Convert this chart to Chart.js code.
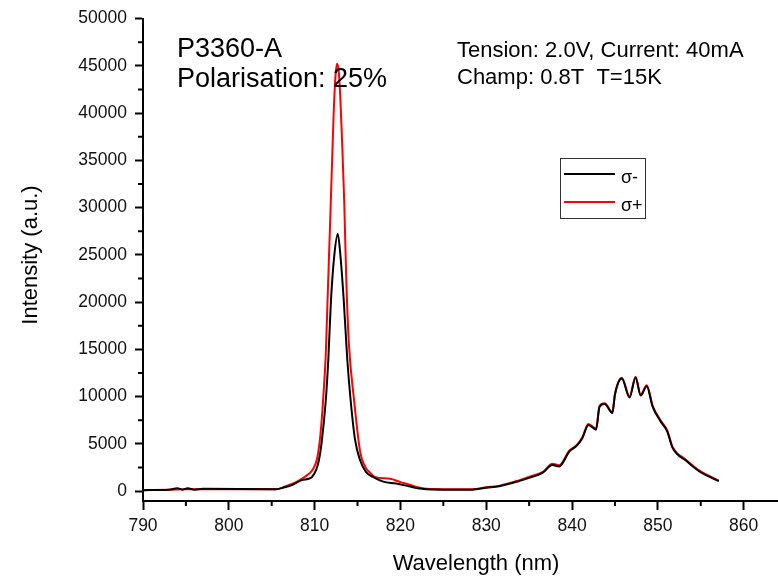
<!DOCTYPE html>
<html lang="en">
<head>
    <meta charset="UTF-8">
    <title>P3360-A spectre</title>
    <script src="https://cdn.jsdelivr.net/npm/chart.js"></script>
    <style>
        html, body { margin: 0; padding: 0; background: #fff; overflow: hidden; }
    </style>
</head>
<body>

<canvas id="myChart" width="778" height="576"></canvas>

<script>
// Données (longueur d'onde en nm, intensité en u.a.)
const sigmaPlusX = [790, 793, 795, 805.5, 806.5, 807.5, 808.5, 809.3, 809.8, 810.3, 810.7, 811.0, 811.3, 811.5,
    811.9, 812.2, 812.4, 812.6, 812.8, 813.0, 813.2, 813.45, 813.7, 814.0, 814.6, 815.3, 816.0, 816.4, 817.0, 818.8,
    820, 821, 822, 823, 826, 828.4, 830, 831.5, 833.9, 835, 836.6, 837.7, 838.5, 839.7, 840.5, 841.2, 841.9,
    842.8, 843.2, 843.8, 844.7, 845.0, 845.8, 846.7, 847.4, 848.0, 848.7, 849.4, 850.3, 851.1, 851.7, 853.3,
    854.8, 857.1];
const sigmaPlusY = [100, 150, 200, 200, 450, 800, 1300, 1800, 2300, 3500, 6200, 9800, 14500, 20000,
    31000, 39500, 43500, 45200, 44500, 41500, 37000, 30600, 22000, 15500, 9600, 4200, 2400, 2000, 1500, 1300,
    950, 700, 400, 250, 200, 200, 400, 550, 1160, 1500, 2030, 2900, 2740, 4300, 4840, 5700, 7100,
    6600, 9000, 9300, 8350, 10300, 12000, 10000, 12100, 10200, 11200, 9000, 7500, 6400, 4700, 3300,
    2200, 1100];

const sigmaMoinsX = [790, 793, 794, 794.6, 795.2, 796, 797, 805.5, 806.5, 807.5, 808.5, 809.3, 809.7, 810.2,
    810.5, 810.8, 811.3, 811.6, 811.9, 812.3, 812.7, 813.0, 813.4, 813.8, 814.2, 814.7, 815.3, 816.0, 816.8,
    818, 819.5, 821, 822, 823, 826, 828.4, 830, 831.5, 833.9, 835, 836.6, 837.7, 838.5, 839.7, 840.5, 841.2,
    841.9, 842.8, 843.2, 843.8, 844.7, 845.0, 845.8, 846.7, 847.4, 848.0, 848.7, 849.4, 850.3, 851.1, 851.7,
    853.3, 854.8, 857.1];
const sigmaMoinsY = [100, 150, 300, 150, 300, 150, 250, 200, 400, 700, 1160, 1300, 1500, 2300,
    3260, 5000, 9580, 14000, 20100, 25000, 27200, 25000, 20100, 14000, 9580, 5500, 3260, 2000, 1500,
    1000, 800, 500, 300, 200, 150, 150, 350, 500, 1080, 1400, 1950, 2750, 2600, 4200, 4750, 5600,
    7000, 6500, 8900, 9200, 8250, 10200, 11900, 9900, 12000, 10100, 11100, 8900, 7400, 6300, 4600,
    3200, 2100, 1050];

const xTicks = [790, 800, 810, 820, 830, 840, 850, 860];
const yTicks = [0, 5000, 10000, 15000, 20000, 25000, 30000, 35000, 40000, 45000, 50000];

const police = "'Liberation Sans', Arial, sans-serif";

function toPoints(xs, ys) {
    return xs.map((x, i) => ({ x: x, y: ys[i] }));
}

// Petites graduations et textes, dessinés à partir des échelles du graphique
const decorations = {
    id: 'decorations',
    afterDraw(chart) {
        const ctx = chart.ctx;
        const xs = chart.scales.x;
        const ys = chart.scales.y;
        const area = chart.chartArea;
        ctx.save();
        ctx.strokeStyle = '#000';
        ctx.lineWidth = 2;
        ctx.beginPath();
        for (let v = 795; v < xs.max; v += 10) {
            const px = xs.getPixelForValue(v);
            ctx.moveTo(px, area.bottom);
            ctx.lineTo(px, area.bottom + 5);
        }
        for (let v = 2500; v < ys.max; v += 5000) {
            const py = ys.getPixelForValue(v);
            ctx.moveTo(area.left, py);
            ctx.lineTo(area.left - 5, py);
        }
        ctx.stroke();

        ctx.fillStyle = '#000';
        ctx.textBaseline = 'alphabetic';
        ctx.textAlign = 'left';
        ctx.font = '27px ' + police;
        ctx.fillText('P3360-A', 177, 57);
        ctx.fillText('Polarisation: 25%', 177, 87);
        ctx.font = '22px ' + police;
        ctx.fillText('Tension: 2.0V, Current: 40mA', 457, 57);
        ctx.fillText('Champ: 0.8T  T=15K', 457, 84);

        // légende
        ctx.lineWidth = 1;
        ctx.strokeStyle = '#333';
        ctx.strokeRect(560.5, 158.5, 85, 60);
        ctx.lineWidth = 2;
        ctx.strokeStyle = '#000';
        ctx.beginPath();
        ctx.moveTo(564, 174);
        ctx.lineTo(615, 174);
        ctx.stroke();
        ctx.strokeStyle = '#ff0000';
        ctx.beginPath();
        ctx.moveTo(564, 202);
        ctx.lineTo(615, 202);
        ctx.stroke();
        ctx.font = '18px ' + police;
        ctx.fillText('σ-', 621, 183);
        ctx.fillText('σ+', 621, 211);

        // titres des axes
        ctx.textAlign = 'center';
        ctx.font = '22px ' + police;
        ctx.fillText('Wavelength (nm)', 476, 570);
        ctx.translate(37, 255);
        ctx.rotate(-Math.PI / 2);
        ctx.fillText('Intensity (a.u.)', 0, 0);
        ctx.restore();
    }
};

const ctx = document.getElementById('myChart').getContext('2d');
const myChart = new Chart(ctx, {
    type: 'scatter',
    data: {
        datasets: [{
            label: 'σ-',
            data: toPoints(sigmaMoinsX, sigmaMoinsY),
            showLine: true,
            borderColor: '#000000',
            borderWidth: 2,
            pointRadius: 0,
            cubicInterpolationMode: 'monotone'
        }, {
            label: 'σ+',
            data: toPoints(sigmaPlusX, sigmaPlusY),
            showLine: true,
            borderColor: '#ff0000',
            borderWidth: 2,
            pointRadius: 0,
            cubicInterpolationMode: 'monotone'
        }]
    },
    options: {
        responsive: false,
        animation: false,
        layout: { padding: { top: 16, right: 0, left: 0, bottom: 0 } },
        plugins: {
            legend: { display: false },
            tooltip: { enabled: false }
        },
        scales: {
            x: {
                type: 'linear',
                min: 790,
                max: 864,
                afterBuildTicks: (scale) => {
                    scale.ticks = xTicks.map(v => ({ value: v }));
                },
                afterFit: (scale) => { scale.height = 75; },
                grid: { drawOnChartArea: false, tickLength: 9, tickWidth: 2, tickColor: '#000' },
                border: { color: '#000', width: 2 },
                ticks: {
                    color: '#111', padding: 6, maxRotation: 0,
                    font: { family: police, size: 17.5 },
                    callback: (v) => String(v)
                }
            },
            y: {
                min: -1050,
                max: 50000,
                afterBuildTicks: (scale) => {
                    scale.ticks = yTicks.map(v => ({ value: v }));
                },
                afterFit: (scale) => { scale.width = 143; },
                grid: { drawOnChartArea: false, tickLength: 8, tickWidth: 2, tickColor: '#000' },
                border: { color: '#000', width: 2 },
                ticks: {
                    color: '#111', padding: 8,
                    font: { family: police, size: 17.5 },
                    callback: (v) => String(v)
                }
            }
        }
    },
    plugins: [decorations]
});
</script>

</body>
</html>
